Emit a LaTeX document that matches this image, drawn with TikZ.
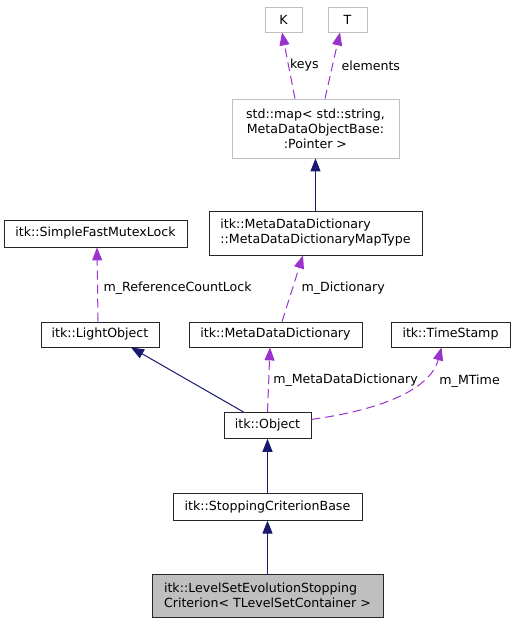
\documentclass[tikz,border=0pt]{standalone}
\usepackage{fontspec}
\setmainfont{DejaVu Sans}
\usetikzlibrary{positioning, arrows.meta}
\definecolor{navy}{HTML}{191970}
\definecolor{orchid}{HTML}{9A32CD}

\begin{document}
\begin{tikzpicture}[x=1pt, y=-1pt, font=\fontsize{12.6}{15}\selectfont,
	cls/.style={draw=black!85, rectangle, line width=0.8pt, inner sep=0pt, minimum height=26pt},
	ext/.style={draw=black!25, rectangle, line width=0.8pt, inner sep=0pt, minimum height=25pt},
	inh/.style={draw=navy, line width=1pt, -{Triangle[length=13pt, width=10pt]}},
	dep/.style={draw=orchid, line width=1pt, dash pattern=on 9pt off 5pt, -{Triangle[length=13pt, width=10pt]}},
	lbl/.style={inner sep=0pt, anchor=west}]
	\useasboundingbox (0,0) rectangle (515,624);
	%diagram
	\node[cls, fill=black!25, minimum width=231pt, minimum height=43pt, align=left] (lso) at (267.5,595.5) {itk::LevelSetEvolutionStopping\\Criterion< TLevelSetContainer >};
	\node[cls, minimum width=189pt, minimum height=27pt, above=53pt of lso] (scb) {itk::StoppingCriterionBase};
	\node[cls, minimum width=87pt, above=54pt of scb] (obj) {itk::Object};
	\node[cls, minimum width=118pt, minimum height=25pt] (lobj) at (100,334.5) {itk::LightObject};
	\node[cls, minimum width=173pt, minimum height=25pt] (mdd) at (275.5,334.5) {itk::MetaDataDictionary};
	\node[cls, minimum width=119pt, minimum height=25pt] (ts) at (450.5,334.5) {itk::TimeStamp};
	\node[cls, minimum width=183pt, minimum height=27pt] (mutex) at (95.5,233.5) {itk::SimpleFastMutexLock};
	\node[cls, minimum width=213pt, minimum height=44pt, align=left] (maptype) at (315.5,233) {itk::MetaDataDictionary\\::MetaDataDictionaryMapType};
	\node[ext, minimum width=167pt, minimum height=59pt, align=center] (map) at (315.5,128.5) {std::map< std::string,\\MetaDataObjectBase:\\:Pointer >};
	\node[ext, minimum width=37pt] (K) at (283.5,19.5) {K};
	\node[ext, minimum width=39pt] (T) at (347.5,19.5) {T};

	%inheritance
	\draw[inh] (lso) -- (scb);
	\draw[inh] (scb) -- (obj);
	\draw[inh] ([xshift=-24pt]obj.north) -- ([xshift=31pt]lobj.south);
	\draw[inh] (maptype) -- (map);

	%members
	\draw[dep] ([xshift=-20.5pt]map.north) -- ([xshift=-1.5pt]K.south) node[lbl, midway, xshift=1pt] {keys};
	\draw[dep] ([xshift=9.5pt]map.north) -- ([xshift=-7.5pt]T.south) node[lbl, midway, xshift=8.5pt] {elements};
	\draw[dep] ([xshift=6.5pt]mdd.north) -- ([xshift=-12.5pt]maptype.south) node[lbl, midway, xshift=8.5pt] {m\_Dictionary};
	\draw[dep] ([xshift=-2pt]lobj.north) -- ([xshift=1.5pt]mutex.south) node[lbl, midway, xshift=5.5pt, yshift=-3.5pt] {m\_ReferenceCountLock};
	\draw[dep] (obj.north) -- ([xshift=-5.5pt]mdd.south) node[lbl, midway, xshift=4pt] {m\_MetaDataDictionary};
	\draw[dep] ([yshift=6pt]obj.east) .. controls (380,410) and (430,390) .. ([xshift=-9pt]ts.south) node[lbl, pos=0.75, xshift=13pt, yshift=-6pt] {m\_MTime};
\end{tikzpicture}
\end{document}
